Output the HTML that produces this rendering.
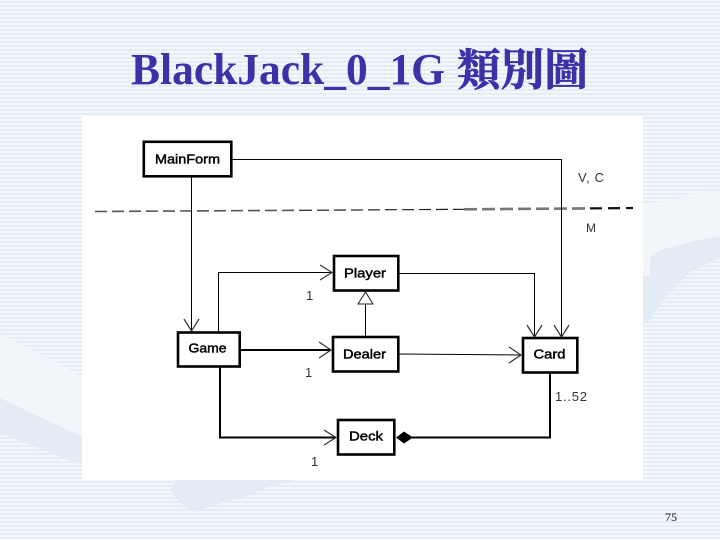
<!DOCTYPE html>
<html><head><meta charset="utf-8"><style>
html,body{margin:0;padding:0;background:#f4f7fb}
svg{display:block}
</style></head><body>
<svg xmlns="http://www.w3.org/2000/svg" width="720" height="540" viewBox="0 0 720 540">
<defs><pattern id="s" width="4" height="4" patternUnits="userSpaceOnUse"><rect width="4" height="4" fill="#f4f7fb"/><rect y="1" width="4" height="2" fill="#e4ecf6"/></pattern></defs>
<rect width="720" height="540" fill="url(#s)"/>
<polygon points="0,333 82,377 82,437 0,398" fill="#f2f6fb"/>
<polygon points="0,398 82,437 82,465 0,433" fill="#e3ebf5"/>
<polygon points="176,480 170,490 185,508 195,512 215,505 250,495 265,488 295,480" fill="#e3ebf5"/>
<polygon points="643,205 680,198 690,194 720,190 720,236 700,240 660,250 650,258 650,276 643,276" fill="#f2f6fb"/>
<polygon points="643,276 650,276 650,258 660,250 700,240 720,236 720,258 690,272 665,298 650,320 643,325" fill="#e3ebf5"/>
<rect x="82" y="116" width="561" height="364" fill="#fff"/>

<text x="131" y="84" font-family="'Liberation Serif',serif" font-weight="bold" font-size="44" fill="#3a32a6" textLength="314" lengthAdjust="spacingAndGlyphs">BlackJack_0_1G</text>
<text x="457" y="85" font-family="'Liberation Serif','Noto Serif CJK SC','Noto Sans CJK TC',serif" font-weight="bold" font-size="44" fill="#3a32a6" stroke="#3a32a6" stroke-width="0.7" textLength="131" lengthAdjust="spacingAndGlyphs">類別圖</text>

<g fill="none" stroke="#000" stroke-width="1">
<line x1="95" y1="211.5" x2="300" y2="210.3" stroke-dasharray="12 5" stroke="#555" stroke-width="1.6"/>
<line x1="300" y1="210.3" x2="464" y2="209.3" stroke-dasharray="12 5" stroke="#222" stroke-width="1.2"/>
<line x1="464" y1="209.3" x2="590" y2="208.4" stroke-dasharray="13 5" stroke="#777" stroke-width="2.6"/>
<line x1="590" y1="208.4" x2="633" y2="208" stroke-dasharray="12 6" stroke="#111" stroke-width="2.2"/>
<polyline points="232,159.5 561.5,159.5 561.5,337"/>
<line x1="191.5" y1="177" x2="191.5" y2="331"/>
<polyline points="218.5,331 218.5,272.5 332,272.5"/>
<polyline points="399,273.5 534.5,273.5 534.5,337"/>
<line x1="365.500" y1="304" x2="365.500" y2="336"/>
<line x1="399" y1="354" x2="521" y2="355"/>
<g stroke-width="2">
<line x1="241" y1="350" x2="331" y2="350"/>
<polyline points="220,367 220,437.5 336,437.5"/>
<polyline points="550,373 550,437.5 412,437.5"/>
</g>
<g stroke="#333" stroke-width="1.2">
<polyline points="320,265 332,272.5 320,280"/>
<polyline points="319,342 331,350 319,358"/>
<polyline points="324,430 336,437.5 324,445"/>
<polyline points="509,347 521,355 509,363"/>
<polyline points="184,319 191.5,331 199,319"/>
<polyline points="527,325 534.5,337 542,325"/>
<polyline points="554,325 561.5,337 569,325"/>
</g>
<polygon points="365.500,292 358,304 373,304" stroke="#222"/>
</g>
<polygon points="396,437.5 404,431.5 413,437.5 404,443.5" fill="#000"/>

<g fill="#fff" stroke="#000" stroke-width="2.6">
<rect x="143.800" y="141.800" width="87.500" height="34.500"/>
<rect x="334" y="256" width="64.300" height="34.500"/>
<rect x="178" y="332.500" width="61.700" height="34"/>
<rect x="333" y="337" width="65.300" height="34.500"/>
<rect x="338" y="420" width="56.300" height="34.500"/>
<rect x="523" y="338" width="54.300" height="34.500"/>
</g>

<g font-family="'Liberation Sans',sans-serif" font-size="13" fill="#000" stroke="#000" stroke-width="0.45">
<text x="155" y="163.500" textLength="65" lengthAdjust="spacingAndGlyphs">MainForm</text>
<text x="344" y="277.500" textLength="42" lengthAdjust="spacingAndGlyphs">Player</text>
<text x="188.500" y="352.500" textLength="38" lengthAdjust="spacingAndGlyphs">Game</text>
<text x="343" y="358.500" textLength="43" lengthAdjust="spacingAndGlyphs">Dealer</text>
<text x="349" y="440.500" textLength="34" lengthAdjust="spacingAndGlyphs">Deck</text>
<text x="533.500" y="358.500" textLength="32" lengthAdjust="spacingAndGlyphs">Card</text>
</g>
<g font-family="'Liberation Sans',sans-serif" font-size="13" fill="#333">
<text x="306" y="300">1</text>
<text x="305" y="377">1</text>
<text x="311" y="466">1</text>
<text x="555" y="401" textLength="32" lengthAdjust="spacing">1..52</text>
<text x="578" y="182" textLength="26" lengthAdjust="spacing">V, C</text>
<text x="586" y="232" font-size="12">M</text>
</g>
<text x="665" y="521" font-family="'Liberation Serif',serif" font-size="12" fill="#111">75</text>
</svg>
</body></html>
